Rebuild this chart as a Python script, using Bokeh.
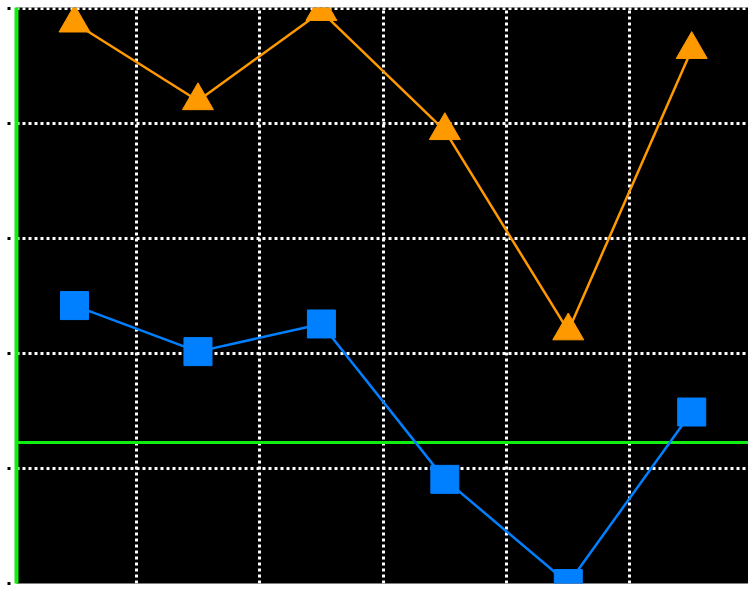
from bokeh.plotting import figure
from bokeh.models import Range1d, FixedTicker, Span, Grid
from bokeh.embed import file_html
from bokeh.resources import INLINE

# data
x_idx = [0, 1, 2, 3, 4, 5]
blue_vals = [48.3, 40.3, 45.1, 18.1, 0.0, 29.8]
orange_vals = [97.4, 83.9, 99.4, 78.7, 43.9, 92.8]
x_grid_ticks = [0.5, 1.5, 2.5, 3.5, 4.5]
y_ticks = [0, 20, 40, 60, 80, 100]
green_level = 24.5

BLUE = "#0080ff"
ORANGE = "#ff9900"
GREEN = "#11ee11"

p = figure(width=748, height=594, output_backend="svg", toolbar_location=None,
           x_range=Range1d(-0.47, 5.46), y_range=Range1d(0, 100.1),
           x_axis_location=None, background_fill_color="black",
           border_fill_color="white",
           min_border_left=16, min_border_right=0, min_border_top=7,
           min_border_bottom=11)
p.outline_line_color = None
for g in p.grid:
    g.visible = False

ax = p.yaxis[0]
ax.ticker = FixedTicker(ticks=y_ticks)
ax.axis_line_color = GREEN
ax.axis_line_width = 4
ax.major_tick_line_color = "black"
ax.major_tick_line_width = 3
ax.major_tick_out = 9
ax.major_tick_in = -6
ax.minor_tick_line_color = None
ax.major_label_overrides = {t: "" for t in y_ticks}
ax.major_label_standoff = 0

gx = Grid(dimension=0, ticker=FixedTicker(ticks=x_grid_ticks),
          grid_line_color="white", grid_line_width=3, grid_line_dash="3 3")
gy = Grid(dimension=1, ticker=FixedTicker(ticks=y_ticks),
          grid_line_color="white", grid_line_width=3, grid_line_dash="3 3")
p.add_layout(gx)
p.add_layout(gy)

span = Span(location=green_level, dimension="width", line_color=GREEN,
            line_width=3, level="underlay")
p.add_layout(span)

p.line(x_idx, orange_vals, line_color=ORANGE, line_width=2.5)
p.scatter(x_idx, orange_vals, marker="triangle", size=31,
          fill_color=ORANGE, line_color=ORANGE)
p.line(x_idx, blue_vals, line_color=BLUE, line_width=2.5)
p.scatter(x_idx, blue_vals, marker="square", size=28,
          fill_color=BLUE, line_color=BLUE)

open("out.html", "w").write(file_html(p, INLINE))
